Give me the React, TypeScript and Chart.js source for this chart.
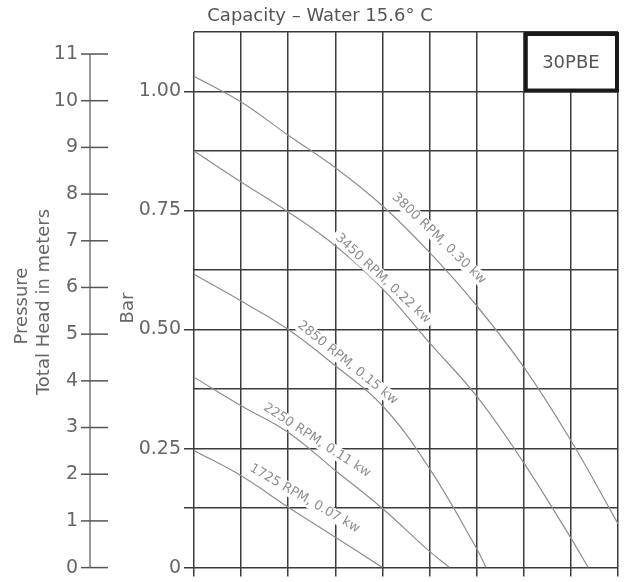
import { useEffect, useRef } from 'react'
import { Chart, registerables } from 'chart.js'

Chart.register(...registerables)

// capacity scale has no printed values, x runs in grid divisions (0-9)
const x3800 = [0, 1, 2, 3, 4, 5, 6, 7, 8, 9]
const head3800 = [1.032, 0.978, 0.908, 0.84, 0.76, 0.662, 0.55, 0.421, 0.267, 0.092]

const x3450 = [0, 1, 2, 3, 4, 5, 6, 7, 8, 8.37]
const head3450 = [0.875, 0.81, 0.747, 0.676, 0.586, 0.472, 0.36, 0.22, 0.062, 0]

const x2850 = [0, 1, 2, 3, 4, 5, 6, 6.2]
const head2850 = [0.616, 0.56, 0.5, 0.424, 0.34, 0.208, 0.04, 0]

const x2250 = [0, 1, 2, 3, 4, 5, 5.43]
const head2250 = [0.4, 0.34, 0.284, 0.204, 0.124, 0.034, 0]

const x1725 = [0, 1, 2, 3, 4]
const head1725 = [0.246, 0.193, 0.127, 0.064, 0]

const meterTicks = [0, 1, 2, 3, 4, 5, 6, 7, 8, 9, 10, 11]
const barTickMarks = [0, 0.125, 0.25, 0.5, 0.75, 1]
const BAR_PER_METER = 0.0980665

const curveLabels = [
  { text: '3800 RPM, 0.30 kw', x: 5.2, y: 0.691, angle: 44 },
  { text: '3450 RPM, 0.22 kw', x: 4.01, y: 0.607, angle: 43 },
  { text: '2850 RPM, 0.15 kw', x: 3.26, y: 0.43, angle: 39 },
  { text: '2250 RPM, 0.11 kw', x: 2.61, y: 0.267, angle: 33 },
  { text: '1725 RPM, 0.07 kw', x: 2.35, y: 0.145, angle: 30 },
]

const TITLE = 'Capacity \u2013 Water 15.6\u00b0 C'
const MODEL = '30PBE'

const FONT = '"DejaVu Sans", sans-serif'
const GRID = '#3c3c3c'
const CURVE = '#8e8e8e'
const TEXT = '#666'

const toPoints = (xs: number[], ys: number[]) => xs.map((x, i) => ({ x, y: ys[i] }))

const sheetPlugin = {
  id: 'sheet',
  beforeDraw(chart: any) {
    const { ctx, width, height } = chart
    ctx.save()
    ctx.fillStyle = '#fff'
    ctx.fillRect(0, 0, width, height)
    ctx.restore()
  },
  afterDatasetsDraw(chart: any) {
    const { ctx } = chart
    const { x, y } = chart.scales

    // speed labels along the curves, white behind so the grid breaks
    ctx.save()
    ctx.font = `13px ${FONT}`
    ctx.textAlign = 'center'
    ctx.textBaseline = 'middle'
    for (const l of curveLabels) {
      const w = ctx.measureText(l.text).width
      ctx.save()
      ctx.translate(x.getPixelForValue(l.x), y.getPixelForValue(l.y))
      ctx.rotate((l.angle * Math.PI) / 180)
      ctx.fillStyle = '#fff'
      ctx.fillRect(-w / 2 - 4, -7, w + 8, 14)
      ctx.fillStyle = CURVE
      ctx.fillText(l.text, 0, 0)
      ctx.restore()
    }
    ctx.restore()

    // model box in the top right cell
    const bx0 = x.getPixelForValue(7)
    const bx1 = x.getPixelForValue(9)
    const by0 = y.getPixelForValue(1.125)
    const by1 = y.getPixelForValue(1)
    ctx.save()
    ctx.fillStyle = '#fff'
    ctx.fillRect(bx0, by0, bx1 - bx0, by1 - by0)
    ctx.strokeStyle = '#1a1a1a'
    ctx.lineWidth = 4
    ctx.strokeRect(bx0 + 2, by0 + 2, bx1 - bx0 - 3, by1 - by0 - 3)
    ctx.fillStyle = '#555'
    ctx.font = `18px ${FONT}`
    ctx.textAlign = 'center'
    ctx.textBaseline = 'middle'
    ctx.fillText(MODEL, (bx0 + bx1) / 2, (by0 + by1) / 2 + 2)
    ctx.restore()
  },
  afterDraw(chart: any) {
    const { ctx } = chart
    const { y } = chart.scales
    const mPix = (m: number) => y.getPixelForValue(m * BAR_PER_METER)

    ctx.save()
    // title
    ctx.fillStyle = '#555'
    ctx.font = `18px ${FONT}`
    ctx.textAlign = 'center'
    ctx.textBaseline = 'middle'
    ctx.fillText(TITLE, 320, 16)

    // metres scale
    const axisX = 90
    ctx.strokeStyle = '#777'
    ctx.lineWidth = 1.5
    ctx.beginPath()
    ctx.moveTo(axisX, mPix(0))
    ctx.lineTo(axisX, mPix(meterTicks[meterTicks.length - 1]))
    ctx.stroke()
    ctx.strokeStyle = '#555'
    ctx.fillStyle = TEXT
    ctx.font = `19px ${FONT}`
    ctx.textAlign = 'right'
    for (const m of meterTicks) {
      const py = mPix(m)
      ctx.beginPath()
      ctx.moveTo(81, py)
      ctx.lineTo(108, py)
      ctx.stroke()
      ctx.fillText(String(m), 78, py)
    }

    // axis titles
    ctx.font = `18px ${FONT}`
    ctx.textAlign = 'center'
    const vText = (t: string, px: number, py: number) => {
      ctx.save()
      ctx.translate(px, py)
      ctx.rotate(-Math.PI / 2)
      ctx.fillText(t, 0, 0)
      ctx.restore()
    }
    vText('Pressure', 22, 306)
    vText('Total Head in meters', 44, 302)
    vText('Bar', 128, 308)
    ctx.restore()
  },
}

export default function App() {
  const canvasRef = useRef<HTMLCanvasElement>(null)
  const chartRef = useRef<Chart | null>(null)

  useEffect(() => {
    document.body.style.margin = '0'
    if (!canvasRef.current) return
    const ctx = canvasRef.current.getContext('2d')
    if (!ctx) return
    if (chartRef.current) chartRef.current.destroy()

    const curve = (data: { x: number; y: number }[]) => ({
      data,
      borderColor: CURVE,
      borderWidth: 1.2,
      pointRadius: 0,
      fill: false,
      tension: 0.4,
    })

    chartRef.current = new Chart(ctx, {
      type: 'line',
      data: {
        datasets: [
          { label: '3800 RPM', ...curve(toPoints(x3800, head3800)) },
          { label: '3450 RPM', ...curve(toPoints(x3450, head3450)) },
          { label: '2850 RPM', ...curve(toPoints(x2850, head2850)) },
          { label: '2250 RPM', ...curve(toPoints(x2250, head2250)) },
          { label: '1725 RPM', ...curve(toPoints(x1725, head1725)) },
        ],
      },
      options: {
        animation: false,
        responsive: true,
        maintainAspectRatio: false,
        layout: { padding: { top: 32, right: 8, bottom: 0, left: 0 } },
        plugins: {
          legend: { display: false },
          tooltip: { enabled: false },
          title: { display: false },
        },
        scales: {
          x: {
            type: 'linear',
            min: 0,
            max: 9,
            ticks: { stepSize: 1, display: false },
            grid: { color: GRID, lineWidth: 1.5, tickLength: 9 },
            border: { display: false },
            afterFit: (s: any) => {
              s.height = 13
            },
          },
          y: {
            type: 'linear',
            min: 0,
            max: 1.125,
            ticks: {
              stepSize: 0.125,
              color: TEXT,
              padding: 3,
              font: { family: FONT, size: 19 },
              callback: (v: any) => (v === 0 ? '0' : v % 0.25 === 0 ? Number(v).toFixed(2) : ''),
            },
            grid: {
              color: GRID,
              lineWidth: 1.5,
              tickLength: 10,
              tickColor: (c: any) => (barTickMarks.includes(c.tick?.value) ? GRID : 'rgba(0,0,0,0)'),
            },
            border: { display: false },
            afterFit: (s: any) => {
              s.width = 194
            },
          },
        },
      },
      plugins: [sheetPlugin],
    })

    return () => {
      if (chartRef.current) {
        chartRef.current.destroy()
        chartRef.current = null
      }
    }
  }, [])

  return (
    <div style={{ position: 'relative', width: 626, height: 582 }}>
      <canvas ref={canvasRef} />
    </div>
  )
}
